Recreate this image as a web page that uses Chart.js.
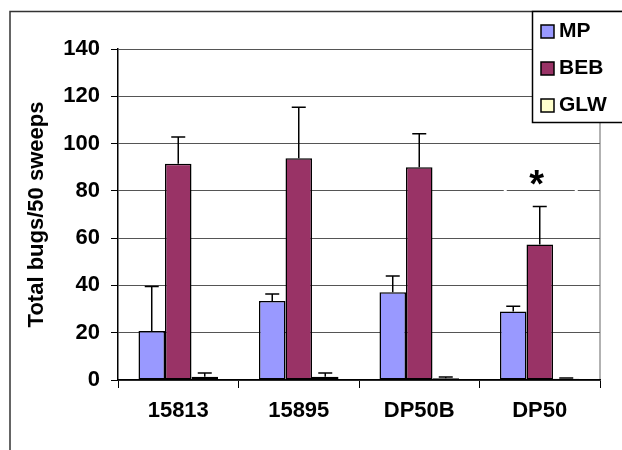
<!DOCTYPE html>
<html>
<head>
<meta charset="utf-8">
<script src="https://cdn.jsdelivr.net/npm/chart.js@4/dist/chart.umd.min.js"></script>
<style>
  html, body { margin: 0; padding: 0; background: #fff; }
  #wrap { position: relative; width: 622px; height: 450px; }
</style>
</head>
<body>
<div id="wrap"><canvas id="bugChart" width="622" height="450"></canvas></div>
<script>
const categories = ['15813', '15895', 'DP50B', 'DP50'];
const seriesNames = ['MP', 'BEB', 'GLW'];
const mpValues = [20.7, 33.4, 37.1, 29.0];
const bebValues = [91.5, 93.8, 90.0, 57.3];
const glwValues = [1.4, 1.4, 0.7, 0.5];
const mpErrTop = [39.5, 36.4, 44.0, 31.2];
const bebErrTop = [102.8, 115.4, 104.2, 73.4];
const glwErrTop = [3.0, 3.0, 1.3, 0.8];
const bebMarks = ['', '', '', '*'];
const yTicks = [0, 20, 40, 60, 80, 100, 120, 140];

const colors = ['#9999FF', '#993366', '#FFFFCC'];
const errTops = [mpErrTop, bebErrTop, glwErrTop];
const FONT = '"Liberation Sans", Arial, sans-serif';

const ctx = document.getElementById('bugChart').getContext('2d');

const chart = new Chart(ctx, {
  type: 'bar',
  data: {
    labels: categories,
    datasets: [mpValues, bebValues, glwValues].map((vals, i) => ({
      label: seriesNames[i],
      data: vals,
      backgroundColor: colors[i],
      borderColor: '#000',
      borderWidth: 1.5,
      borderSkipped: false,
      categoryPercentage: 0.66,
      barPercentage: 1.0
    }))
  },
  options: {
    responsive: false,
    animation: false,
    layout: { padding: { top: 49, right: 22, left: 0, bottom: 0 } },
    scales: {
      x: {
        grid: {
          offset: true,
          drawOnChartArea: false,
          drawTicks: true,
          tickLength: 8,
          color: '#000',
          lineWidth: 1
        },
        border: { color: '#000', width: 1.5 },
        ticks: {
          color: '#000',
          padding: 10,
          font: { family: FONT, size: 22, weight: 'bold' }
        },
        afterFit: s => { s.height = 70; }
      },
      y: {
        min: 0,
        max: 140,
        afterBuildTicks: s => { s.ticks = yTicks.map(v => ({ value: v })); },
        grid: {
          color: '#555',
          lineWidth: 1,
          tickLength: 7,
          tickColor: '#000'
        },
        border: { color: '#000', width: 1.5 },
        ticks: {
          color: '#000',
          padding: 11,
          font: { family: FONT, size: 22, weight: 'bold' }
        },
        title: {
          display: true,
          text: 'Total bugs/50 sweeps',
          color: '#000',
          padding: { top: 24, bottom: 0 },
          font: { family: FONT, size: 22, weight: 'bold' }
        },
        afterFit: s => { s.width = 118; }
      }
    },
    plugins: {
      legend: { display: false },
      tooltip: { enabled: false }
    }
  },
  plugins: [{
    id: 'frameAndExtras',
    beforeDraw(chart) {
      const c = chart.ctx;
      const a = chart.chartArea;
      c.save();
      // right edge of plot area
      c.strokeStyle = '#999';
      c.lineWidth = 1.5;
      c.beginPath();
      c.moveTo(a.right, a.top);
      c.lineTo(a.right, a.bottom);
      c.stroke();
      c.restore();
    },
    afterDatasetsDraw(chart) {
      const c = chart.ctx;
      const y = chart.scales.y;
      c.save();
      c.strokeStyle = '#000';
      c.lineWidth = 1.5;
      chart.data.datasets.forEach((ds, di) => {
        const meta = chart.getDatasetMeta(di);
        meta.data.forEach((bar, i) => {
          const top = y.getPixelForValue(errTops[di][i]);
          const cap = 7;
          c.beginPath();
          c.moveTo(bar.x, bar.y);
          c.lineTo(bar.x, top);
          c.moveTo(bar.x - cap, top);
          c.lineTo(bar.x + cap, top);
          c.stroke();
        });
      });
      // significance marks above BEB bars
      const beb = chart.getDatasetMeta(1);
      bebMarks.forEach((m, i) => {
        if (!m) return;
        const bx = beb.data[i].x;
        const gy = y.getPixelForValue(80);
        c.fillStyle = '#fff';
        c.fillRect(bx - 36, gy - 1.5, 3, 3);
        c.fillRect(bx + 35, gy - 1.5, 3, 3);
        c.fillStyle = '#000';
        c.font = 'bold 38px ' + FONT;
        c.textAlign = 'center';
        c.textBaseline = 'middle';
        c.fillText(m, bx - 3, y.getPixelForValue(bebErrTop[i]) - 20);
      });
      c.restore();
    },
    afterDraw(chart) {
      const c = chart.ctx;
      c.save();
      // outer frame
      c.strokeStyle = '#333';
      c.lineWidth = 1.5;
      c.beginPath();
      c.moveTo(10, 452);
      c.lineTo(10, 11.5);
      c.lineTo(624, 11.5);
      c.stroke();
      // legend box
      c.fillStyle = '#fff';
      c.fillRect(532, 11, 92, 112);
      c.strokeStyle = '#000';
      c.strokeRect(532.5, 11.5, 92, 111);
      chart.data.datasets.forEach((ds, i) => {
        const cy = 31 + i * 37;
        c.fillStyle = ds.backgroundColor;
        c.fillRect(541, cy - 6, 13, 13);
        c.strokeStyle = '#000';
        c.lineWidth = 1.5;
        c.strokeRect(541, cy - 6, 13, 13);
        c.fillStyle = '#000';
        c.font = 'bold 21px ' + FONT;
        c.textAlign = 'left';
        c.textBaseline = 'middle';
        c.fillText(ds.label, 559, cy);
      });
      c.restore();
    }
  }]
});
</script>
</body>
</html>
